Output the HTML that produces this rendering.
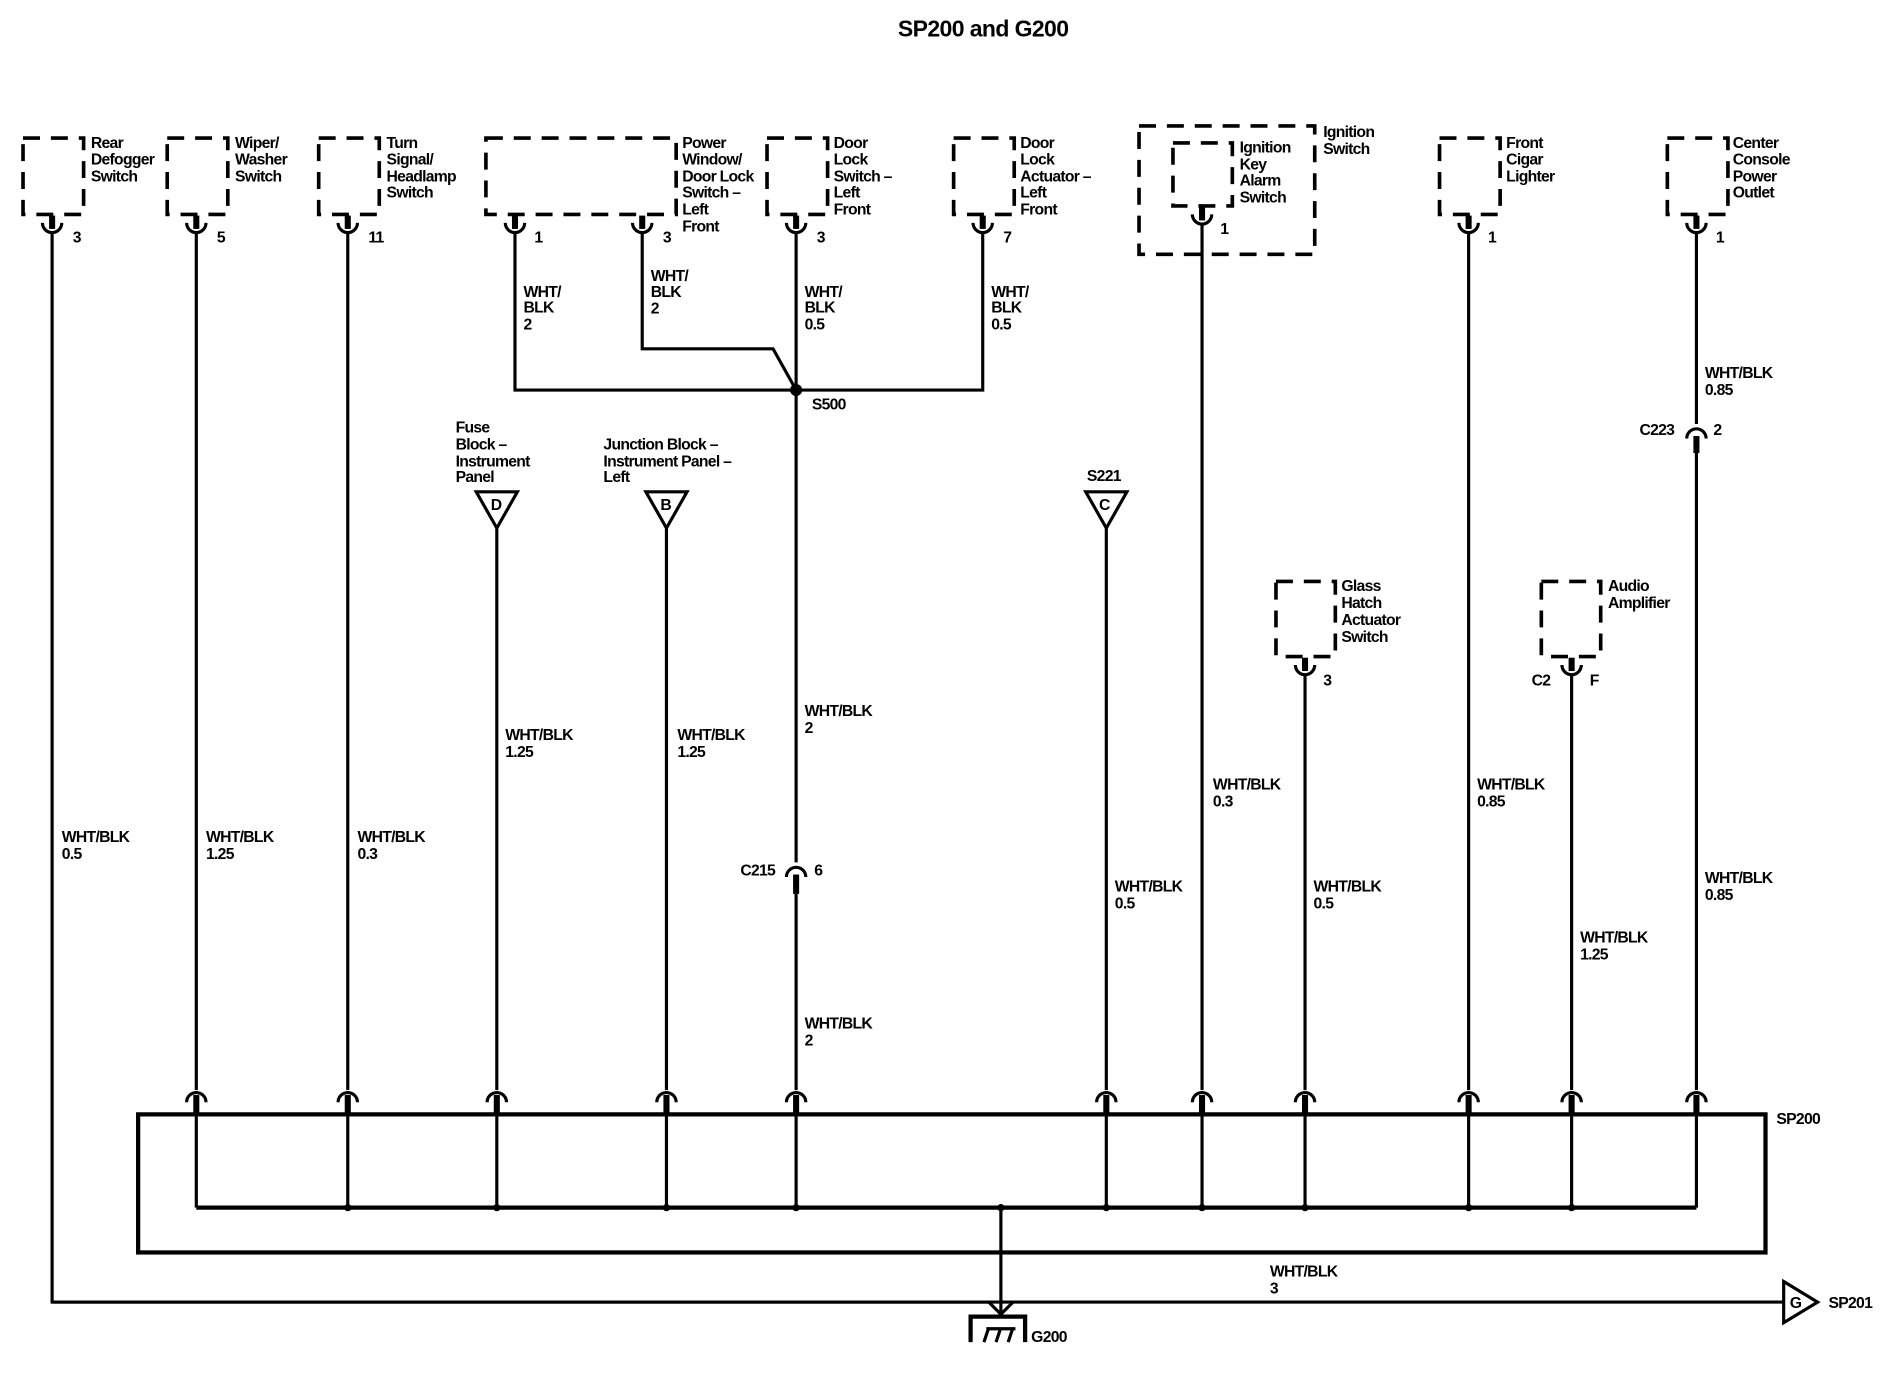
<!DOCTYPE html>
<html><head><meta charset="utf-8"><style>
html,body{margin:0;padding:0;background:#fff;}
svg{display:block;}
text{font-family:"Liberation Sans",Arial,sans-serif;font-size:13px;font-weight:bold;fill:#000;letter-spacing:-0.6px;}
.d{fill:none;stroke:#000;stroke-width:3;stroke-dasharray:14,9;}
.w{fill:none;stroke:#000;stroke-width:2.6;}
.t{fill:none;stroke:#000;stroke-width:3.5;}
</style></head><body>
<svg width="1900" height="1376" viewBox="0 0 1568 1136" preserveAspectRatio="none" xmlns="http://www.w3.org/2000/svg">
<defs>
<g id="tc"><rect x="-2.5" y="0" width="5" height="11" fill="#000"/><path d="M-8,6 A8,8 0 0 0 8,6" class="w"/></g>
<g id="bc"><path d="M-8,12 A8,8 0 0 1 8,12" class="w"/><rect x="-2.5" y="6" width="5" height="16" fill="#000"/></g>
</defs>
<text x="741" y="30" style="font-size:19px;letter-spacing:-0.5px">SP200 and G200</text>

<rect x="19" y="114" width="50" height="63" class="d"/>
<rect x="138" y="114" width="50" height="63" class="d"/>
<rect x="263" y="114" width="50" height="63" class="d"/>
<rect x="401" y="114" width="157" height="63" class="d"/>
<rect x="633" y="114" width="50" height="63" class="d"/>
<rect x="787" y="114" width="50" height="63" class="d"/>
<rect x="940" y="104" width="145" height="106" class="d"/>
<rect x="968" y="118" width="49" height="52" class="d"/>
<rect x="1188" y="114" width="50" height="63" class="d"/>
<rect x="1376" y="114" width="50" height="63" class="d"/>
<rect x="1053" y="480" width="49" height="62" class="d"/>
<rect x="1272" y="480" width="49" height="62" class="d"/>

<use href="#tc" x="43" y="178"/><use href="#tc" x="162" y="178"/><use href="#tc" x="287" y="178"/>
<use href="#tc" x="425" y="178"/><use href="#tc" x="530" y="178"/><use href="#tc" x="657" y="178"/>
<use href="#tc" x="811" y="178"/><use href="#tc" x="992" y="171"/><use href="#tc" x="1212" y="178"/>
<use href="#tc" x="1400" y="178"/><use href="#tc" x="1077" y="543"/><use href="#tc" x="1297" y="543"/>

<text x="60" y="200">3</text><text x="179" y="200">5</text><text x="304" y="200">11</text>
<text x="441" y="200">1</text><text x="547" y="200">3</text><text x="674" y="200">3</text>
<text x="828" y="200">7</text><text x="1007" y="193">1</text><text x="1228" y="200">1</text>
<text x="1416" y="200">1</text><text x="1092" y="566">3</text><text x="1312" y="566">F</text><text x="1264" y="566">C2</text>

<text x="75" y="122">Rear</text><text x="75" y="136">Defogger</text><text x="75" y="150">Switch</text>
<text x="194" y="122">Wiper/</text><text x="194" y="136">Washer</text><text x="194" y="150">Switch</text>
<text x="319" y="122">Turn</text><text x="319" y="136">Signal/</text><text x="319" y="150">Headlamp</text><text x="319" y="163">Switch</text>
<text x="563" y="122">Power</text><text x="563" y="136">Window/</text><text x="563" y="150">Door Lock</text><text x="563" y="163">Switch –</text><text x="563" y="177">Left</text><text x="563" y="191">Front</text>
<text x="688" y="122">Door</text><text x="688" y="136">Lock</text><text x="688" y="150">Switch –</text><text x="688" y="163">Left</text><text x="688" y="177">Front</text>
<text x="842" y="122">Door</text><text x="842" y="136">Lock</text><text x="842" y="150">Actuator –</text><text x="842" y="163">Left</text><text x="842" y="177">Front</text>
<text x="1092" y="113">Ignition</text><text x="1092" y="127">Switch</text>
<text x="1023" y="126">Ignition</text><text x="1023" y="140">Key</text><text x="1023" y="153">Alarm</text><text x="1023" y="167">Switch</text>
<text x="1243" y="122">Front</text><text x="1243" y="136">Cigar</text><text x="1243" y="150">Lighter</text>
<text x="1430" y="122">Center</text><text x="1430" y="136">Console</text><text x="1430" y="150">Power</text><text x="1430" y="163">Outlet</text>
<text x="1107" y="488">Glass</text><text x="1107" y="502">Hatch</text><text x="1107" y="516">Actuator</text><text x="1107" y="530">Switch</text>
<text x="1327" y="488">Audio</text><text x="1327" y="502">Amplifier</text>
<text x="376" y="357">Fuse</text><text x="376" y="371">Block –</text><text x="376" y="385">Instrument</text><text x="376" y="398">Panel</text>
<text x="498" y="371">Junction Block –</text><text x="498" y="385">Instrument Panel –</text><text x="498" y="398">Left</text>
<text x="897" y="397">S221</text>

<g class="w"><path d="M393,406 L427,406 L410,436 Z"/><path d="M533,406 L567,406 L550,436 Z"/><path d="M896,406 L930,406 L913,436 Z"/></g>
<text x="405" y="421">D</text><text x="545" y="421">B</text><text x="907" y="421">C</text>

<path class="w" d="M43,192 V1075 H1472"/>
<path class="w" d="M162,192 V900 M287,192 V900 M410,436 V900 M550,436 V900 M913,436 V900 M992,185 V900 M1212,192 V900 M1077,557 V900 M1297,557 V900"/>
<path class="w" d="M425,192 V322 H811 V192 M530,192 V288 H638 L657,322 M657,192 V712 M657,738 V900"/>
<path class="w" d="M1400,192 V350 M1400,372 V900"/>
<circle cx="657" cy="322" r="5" fill="#000"/>
<text x="670" y="338">S500</text>
<path class="w" d="M649,724 A8,8 0 0 1 665,724"/><rect x="654.5" y="722" width="5" height="16" fill="#000"/>
<text x="611" y="723">C215</text><text x="672" y="723">6</text>
<path class="w" d="M1392,362 A8,8 0 0 1 1408,362"/><rect x="1397.5" y="360" width="5" height="14" fill="#000"/>
<text x="1353" y="359">C223</text><text x="1414" y="359">2</text>

<text x="432" y="245">WHT/</text><text x="432" y="258">BLK</text><text x="432" y="272">2</text>
<text x="537" y="232">WHT/</text><text x="537" y="245">BLK</text><text x="537" y="259">2</text>
<text x="664" y="245">WHT/</text><text x="664" y="258">BLK</text><text x="664" y="272">0.5</text>
<text x="818" y="245">WHT/</text><text x="818" y="258">BLK</text><text x="818" y="272">0.5</text>
<text x="1407" y="312">WHT/BLK</text><text x="1407" y="326">0.85</text>
<text x="51" y="695">WHT/BLK</text><text x="51" y="709">0.5</text>
<text x="170" y="695">WHT/BLK</text><text x="170" y="709">1.25</text>
<text x="295" y="695">WHT/BLK</text><text x="295" y="709">0.3</text>
<text x="417" y="611">WHT/BLK</text><text x="417" y="625">1.25</text>
<text x="559" y="611">WHT/BLK</text><text x="559" y="625">1.25</text>
<text x="664" y="591">WHT/BLK</text><text x="664" y="605">2</text>
<text x="664" y="849">WHT/BLK</text><text x="664" y="863">2</text>
<text x="920" y="736">WHT/BLK</text><text x="920" y="750">0.5</text>
<text x="1001" y="652">WHT/BLK</text><text x="1001" y="666">0.3</text>
<text x="1084" y="736">WHT/BLK</text><text x="1084" y="750">0.5</text>
<text x="1219" y="652">WHT/BLK</text><text x="1219" y="666">0.85</text>
<text x="1304" y="778">WHT/BLK</text><text x="1304" y="792">1.25</text>
<text x="1407" y="729">WHT/BLK</text><text x="1407" y="743">0.85</text>
<text x="1048" y="1054">WHT/BLK</text><text x="1048" y="1068">3</text>

<use href="#bc" x="162" y="898"/><use href="#bc" x="287" y="898"/><use href="#bc" x="410" y="898"/>
<use href="#bc" x="550" y="898"/><use href="#bc" x="657" y="898"/><use href="#bc" x="913" y="898"/>
<use href="#bc" x="992" y="898"/><use href="#bc" x="1077" y="898"/><use href="#bc" x="1212" y="898"/>
<use href="#bc" x="1297" y="898"/><use href="#bc" x="1400" y="898"/>

<rect x="114" y="920" width="1343" height="114" class="t"/>
<text x="1466" y="928">SP200</text>
<path class="w" d="M162,920 V997 M287,920 V997 M410,920 V997 M550,920 V997 M657,920 V997 M913,920 V997 M992,920 V997 M1077,920 V997 M1212,920 V997 M1297,920 V997 M1400,920 V997"/>
<path class="t" d="M162,997 H1400"/>
<g fill="#000"><circle cx="287" cy="997" r="3"/><circle cx="410" cy="997" r="3"/><circle cx="550" cy="997" r="3"/><circle cx="657" cy="997" r="3"/><circle cx="913" cy="997" r="3"/><circle cx="992" cy="997" r="3"/><circle cx="1077" cy="997" r="3"/><circle cx="1212" cy="997" r="3"/><circle cx="1297" cy="997" r="3"/><circle cx="826" cy="997" r="3"/></g>
<path class="w" d="M826,997 V1085"/>
<path class="w" d="M43,1075 H816 L826,1085 L836,1075"/>
<path class="t" d="M801,1108 V1087 H846 V1108"/>
<path class="w" d="M812,1108 L816,1096 M822,1108 L826,1096 M832,1108 L836,1096 M814,1097 H838"/>
<text x="851" y="1108">G200</text>
<path class="w" d="M1472,1058 L1500,1075 L1472,1092 Z"/>
<text x="1477" y="1080">G</text>
<text x="1509" y="1080">SP201</text>
</svg>
</body></html>
